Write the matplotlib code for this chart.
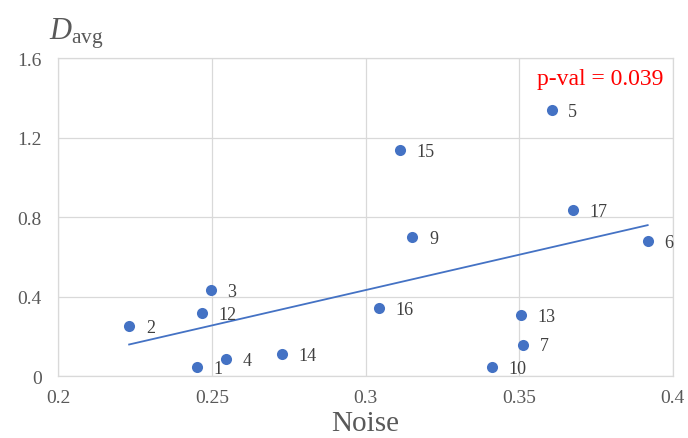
import numpy as np
import matplotlib.pyplot as plt

plt.rcParams['font.family'] = ['Liberation Serif', 'DejaVu Serif']
plt.rcParams['mathtext.fontset'] = 'custom'
plt.rcParams['mathtext.rm'] = 'Liberation Serif'
plt.rcParams['mathtext.it'] = 'Liberation Serif:italic'

# subject id, noise, D_avg
ids = [1, 2, 3, 4, 5, 6, 7, 9, 10, 12, 13, 14, 15, 16, 17]
noise = [0.2450, 0.2230, 0.2496, 0.2545, 0.3605, 0.3918, 0.3512, 0.3152,
         0.3410, 0.2467, 0.3506, 0.2727, 0.3111, 0.3042, 0.3674]
d_avg = [0.047, 0.252, 0.433, 0.084, 1.340, 0.681, 0.158, 0.701,
         0.045, 0.317, 0.305, 0.109, 1.137, 0.344, 0.835]

xticks = [0.2, 0.25, 0.3, 0.35, 0.4]
xticklabels = ['0.2', '0.25', '0.3', '0.35', '0.4']
yticks = [0, 0.4, 0.8, 1.2, 1.6]
yticklabels = ['0', '0.4', '0.8', '1.2', '1.6']

blue = '#4472C4'
grey = '#595959'
gridc = '#D9D9D9'

fig = plt.figure(figsize=(6.88, 4.39), dpi=100)
ax = fig.add_axes([0.085, 0.1412, 0.893, 0.7244])

x = np.array(noise)
y = np.array(d_avg)
k, b = np.polyfit(x, y, 1)
xl = np.array([x.min(), x.max()])
ax.plot(xl, k * xl + b, color=blue, lw=1.3, zorder=2)

ax.scatter(x, y, s=64, color=blue, zorder=3, linewidths=0)
for i, xi, yi in zip(ids, x, y):
    ax.annotate(str(i), (xi, yi), xytext=(12, -1), textcoords='offset points',
                va='center', ha='left', fontsize=13, color='#404040')

ax.set_xlim(0.2, 0.4)
ax.set_ylim(0, 1.6)
ax.set_xticks(xticks)
ax.set_xticklabels(xticklabels)
ax.set_yticks(yticks)
ax.set_yticklabels(yticklabels)
ax.tick_params(length=0, labelsize=14, labelcolor=grey)
ax.tick_params(axis='y', pad=12)
ax.tick_params(axis='x', pad=9)
ax.grid(True, color=gridc, lw=0.9)
ax.set_axisbelow(True)
for s in ax.spines.values():
    s.set_color(gridc)
    s.set_linewidth(0.9)

ax.set_xlabel('Noise', fontsize=21, color=grey, labelpad=3)
fig.text(0.071, 0.911, r'$D_{\mathrm{avg}}$', fontsize=22, color=grey,
         ha='left', va='baseline')
ax.text(0.984, 0.968, 'p-val = 0.039', transform=ax.transAxes, color='red',
        fontsize=17, ha='right', va='top')

fig.savefig('out.png', dpi=100)
